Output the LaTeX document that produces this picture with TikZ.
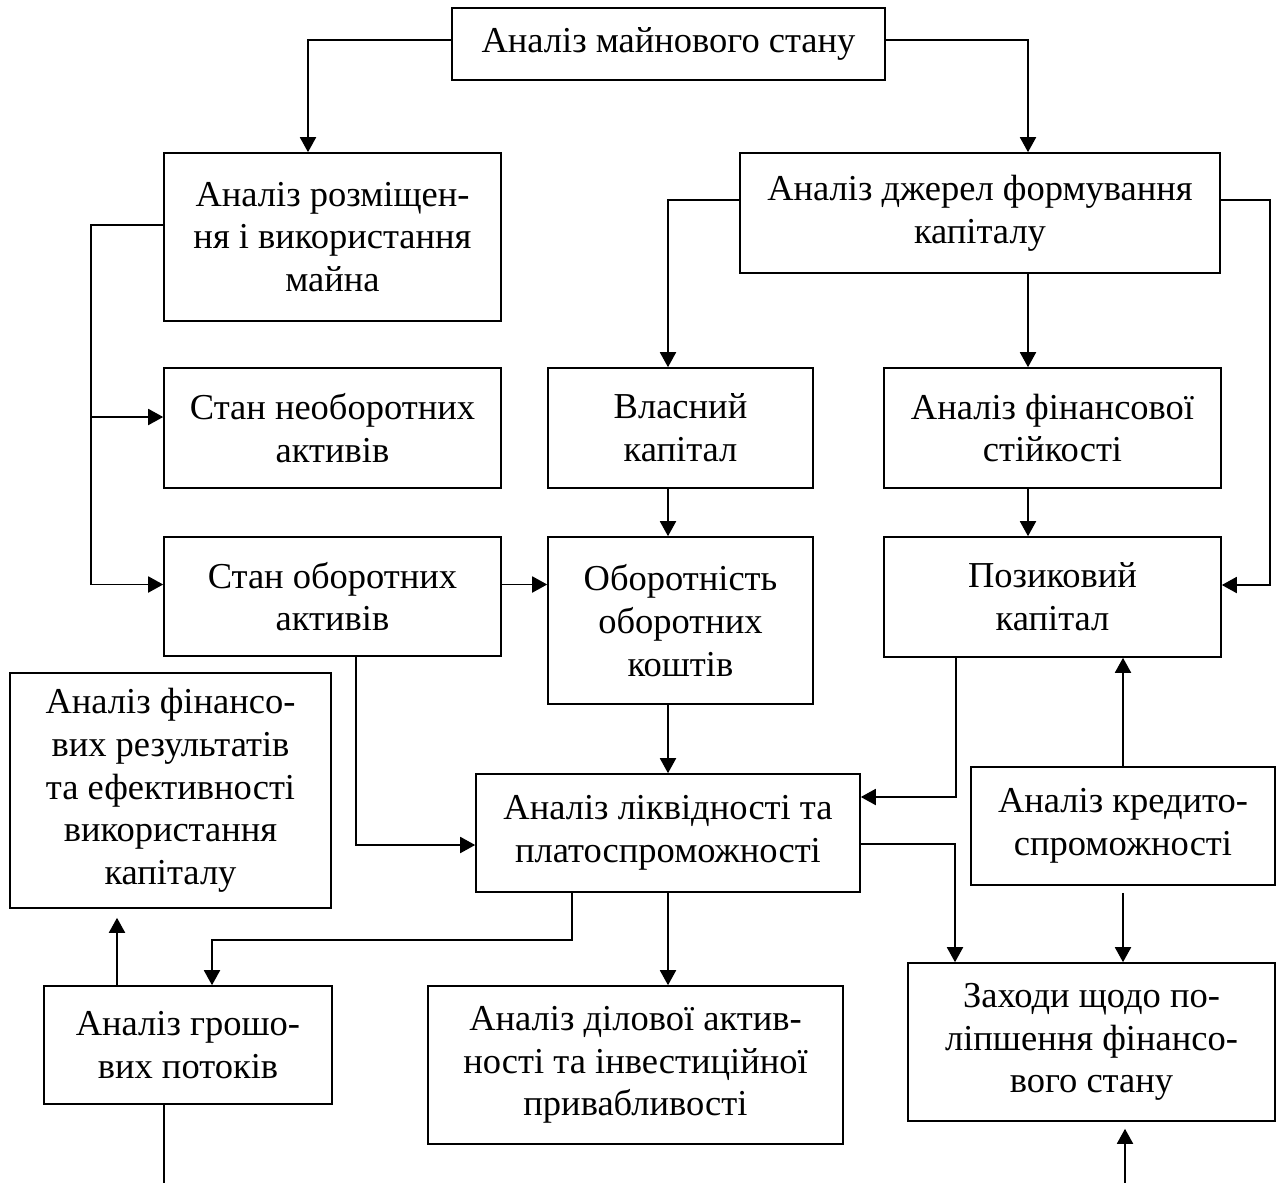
\documentclass[tikz,border=0pt]{standalone}
\usepackage{fontspec}
\setmainfont{Liberation Serif}
\usetikzlibrary{arrows.meta}

\begin{document}
\begin{tikzpicture}[x=1pt,y=-1pt,
    blok/.style={draw,line width=1.6pt,align=center,inner sep=0pt,font=\fontsize{36.5}{42.7}\selectfont},
    strilka/.style={line width=1.9pt,-{Triangle[length=15pt,width=16pt]}},
    liniya/.style={line width=1.6pt}]
    \useasboundingbox (0,0) rectangle (1280,1183);
    \node[blok,minimum width=433pt,minimum height=72pt] (maino) at (668.5,44) {Аналіз майнового стану};
    \node[blok,minimum width=337pt,minimum height=168pt] (rozm) at (332.5,237) {Аналіз розміщен-\\ня і використання\\майна};
    \node[blok,minimum width=480pt,minimum height=120pt] (dzher) at (980,213) {Аналіз джерел формування\\капіталу};
    \node[blok,minimum width=337pt,minimum height=120pt] (neob) at (332.5,428) {Стан необоротних\\активів};
    \node[blok,minimum width=337pt,minimum height=119pt] (obor) at (332.5,596.5) {Стан оборотних\\активів};
    \node[blok,minimum width=265pt,minimum height=120pt] (vlas) at (680.5,428) {Власний\\капітал};
    \node[blok,minimum width=337pt,minimum height=120pt] (stiik) at (1052.5,428) {Аналіз фінансової\\стійкості};
    \node[blok,minimum width=265pt,minimum height=167pt] (obkosh) at (680.5,620.5) {Оборотність\\оборотних\\коштів};
    \node[blok,minimum width=337pt,minimum height=120pt] (pozyk) at (1052.5,597) {Позиковий\\капітал};
    \node[blok,minimum width=384pt,minimum height=118pt] (likv) at (668,833) {Аналіз ліквідності та\\платоспроможності};
    \node[blok,minimum width=304pt,minimum height=118pt] (kred) at (1123,826) {Аналіз кредито-\\спроможності};
    \node[blok,minimum width=367pt,minimum height=158pt] (zakh) at (1091.5,1042) {Заходи щодо по-\\ліпшення фінансо-\\вого стану};
    \node[blok,minimum width=321pt,minimum height=235pt] (finrez) at (170.5,790.5) {Аналіз фінансо-\\вих результатів\\та ефективності\\використання\\капіталу};
    \node[blok,minimum width=288pt,minimum height=118pt] (hrosh) at (188,1045) {Аналіз грошо-\\вих потоків};
    \node[blok,minimum width=415pt,minimum height=158pt] (dilov) at (635.5,1065) {Аналіз ділової актив-\\ності та інвестиційної\\привабливості};
    \coordinate (niz1) at (164,1183);
    \coordinate (niz2) at (1125,1183);

    \draw[strilka] ([yshift=4pt]maino.west) -| ([xshift=-24.5pt]rozm.north);
    \draw[strilka] ([yshift=4pt]maino.east) -| ([xshift=-24.5pt]stiik.north |- dzher.north);
    \draw[strilka] ([yshift=13pt]dzher.west) -| ([xshift=-12.5pt]vlas.north);
    \draw[strilka] ([xshift=-24.5pt]stiik.north |- dzher.south) -- ([xshift=-24.5pt]stiik.north);
    \draw[strilka] ([yshift=13pt]dzher.east) -- ++(49,0) |- ([yshift=12pt]pozyk.east);
    \draw[strilka] ([yshift=12pt]rozm.west) -- ++(-72,0) coordinate (lv) |- ([yshift=12pt]obor.west);
    \path ([yshift=11pt]neob.west) coordinate (neobin);
    \draw[strilka] (lv |- neobin) -- (neobin);
    \draw[strilka] ([xshift=-12.5pt]vlas.south) -- ([xshift=-12.5pt]obkosh.north);
    \draw[strilka] ([xshift=-24.5pt]stiik.south) -- ([xshift=-24.5pt]pozyk.north);
    \draw[strilka] ([yshift=12pt]obor.east) coordinate (e1) -- (e1 -| obkosh.west);
    \draw[strilka] ([xshift=23.5pt]obor.south) |- ([yshift=-12pt]likv.west);
    \draw[strilka] (likv.north |- obkosh.south) -- (likv.north);
    \draw[strilka] ([xshift=-96.5pt]pozyk.south) |- ([yshift=36pt]likv.east);
    \draw[strilka] ([yshift=-11pt]likv.east) -| ([xshift=-136.5pt]zakh.north);
    \draw[strilka] (kred.north) -- (kred.north |- pozyk.south);
    \draw[strilka,shorten <=7pt] (kred.south) -- (kred.south |- zakh.north);
    \draw[strilka] ([xshift=-96pt]likv.south) -- ++(0,47) -| ([xshift=24pt]hrosh.north);
    \draw[strilka] (likv.south) -- (likv.south |- dilov.north);
    \coordinate (m1) at ([xshift=-71pt]hrosh.north);
    \draw[strilka,shorten >=9pt] (m1) -- (m1 |- finrez.south);
    \draw[liniya] (niz1 |- hrosh.south) -- (niz1);
    \draw[strilka,shorten >=7pt] (niz2) -- (niz2 |- zakh.south);
\end{tikzpicture}
\end{document}
